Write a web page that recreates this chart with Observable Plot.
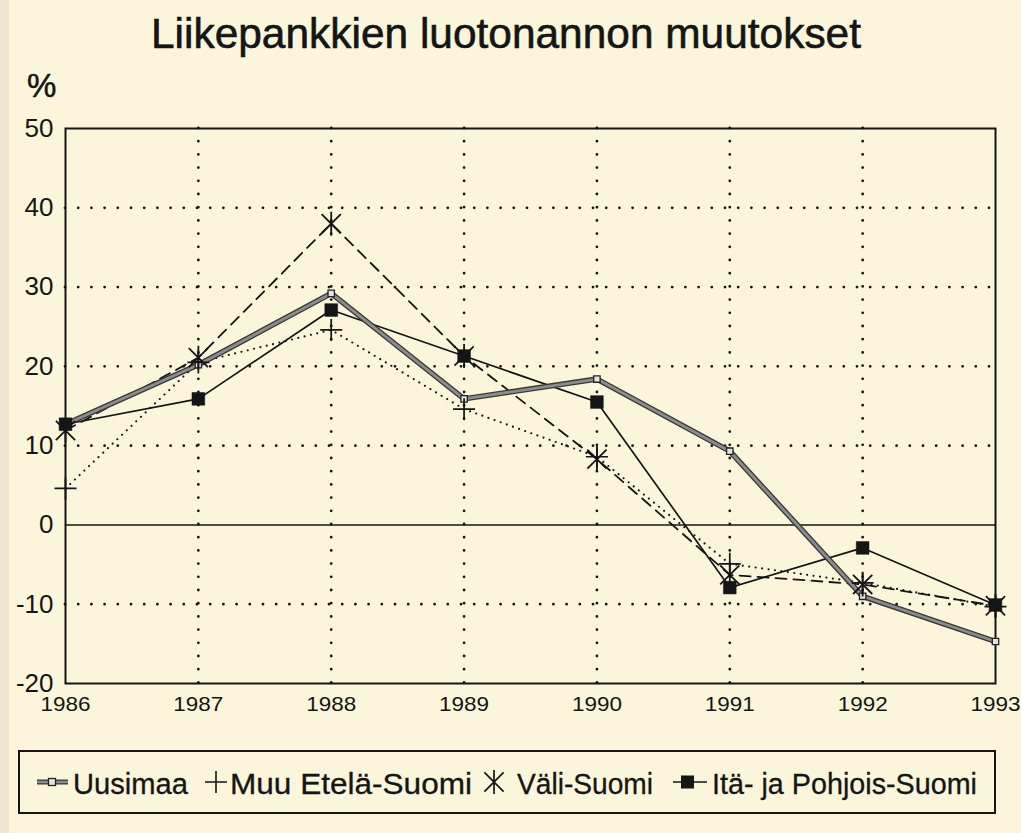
<!DOCTYPE html>
<html>
<head>
<meta charset="utf-8">
<script src="https://cdn.jsdelivr.net/npm/d3@7"></script>
<script src="https://cdn.jsdelivr.net/npm/@observablehq/plot@0.6"></script>
<style>
  html, body { margin: 0; padding: 0; background: #fbf5dc; }
  #wrap { position: relative; width: 1021px; height: 833px; overflow: hidden; background: #fbf5dc; font-family: "Liberation Sans", Arial, Helvetica, sans-serif; }
  #strip { position: absolute; left: 0; top: 0; width: 9px; height: 833px; background: #ece6d2; }
  #chart { position: absolute; left: 0; top: 0; }
  #overlay { position: absolute; left: 0; top: 0; }
</style>
</head>
<body>
<div id="wrap">
  <div id="strip"></div>
  <div id="chart"></div>
  <svg id="overlay" width="1021" height="833"></svg>
</div>
<script>
// ---- data ----
const title = "Liikepankkien luotonannon muutokset";
const unitLabel = "%";
const years = [1986, 1987, 1988, 1989, 1990, 1991, 1992, 1993];
const seriesNames = ["Uusimaa", "Muu Etelä-Suomi", "Väli-Suomi", "Itä- ja Pohjois-Suomi"];
const uusimaa = [12.7, 20.2, 29.2, 15.9, 18.4, 9.3, -9.0, -14.7];
const muuEtela = [4.6, 20.5, 24.6, 14.6, 8.6, -4.9, -7.3, -10.3];
const valiSuomi = [11.9, 21.1, 38.0, 21.3, 8.3, -6.3, -7.5, -10.2];
const itaPohjois = [12.7, 15.9, 27.1, 21.3, 15.5, -7.9, -2.9, -10.1];
const yTicks = [-20, -10, 0, 10, 20, 30, 40, 50];

const toRows = (vals) => years.map((y, i) => ({ year: y, value: vals[i] }));
const U = toRows(uusimaa), M = toRows(muuEtela), V = toRows(valiSuomi), I = toRows(itaPohjois);

// custom symbols
const plusSym = { draw(ctx, size) { const r = Math.sqrt(size / Math.PI);
  ctx.moveTo(-r, 0); ctx.lineTo(r, 0); ctx.moveTo(0, -r); ctx.lineTo(0, r); } };
const starSym = { draw(ctx, size) { const r = Math.sqrt(size / Math.PI); const d = r * 0.8;
  ctx.moveTo(0, -r); ctx.lineTo(0, r); ctx.moveTo(-d, -d); ctx.lineTo(d, d); ctx.moveTo(-d, d); ctx.lineTo(d, -d); } };

const ink = "#151515";
const chart = Plot.plot({
  width: 1021, height: 720,
  marginTop: 128, marginBottom: 37, marginLeft: 65, marginRight: 26,
  style: { background: "transparent", color: ink, fontFamily: "'Liberation Sans', Arial, Helvetica, sans-serif" },
  x: { domain: [1986, 1993] },
  y: { domain: [-20, 50] },
  marks: [
    Plot.gridY(yTicks.filter(t => t !== 0 && t !== -20 && t !== 50), { stroke: ink, strokeOpacity: 1, strokeWidth: 2.8, strokeDasharray: "0,13.2", strokeLinecap: "round" }),
    Plot.gridX(years.slice(1, -1), { stroke: ink, strokeOpacity: 1, strokeWidth: 2.8, strokeDasharray: "0,13.2", strokeLinecap: "round" }),
    Plot.ruleY([0], { stroke: ink, strokeWidth: 1.6 }),
    Plot.frame({ stroke: ink, strokeWidth: 2 }),
    // Muu Etelä-Suomi: dotted
    Plot.line(M, { x: "year", y: "value", stroke: ink, strokeWidth: 2.2, strokeDasharray: "0,6.5", strokeLinecap: "round" }),
    // Väli-Suomi: dashed
    Plot.line(V, { x: "year", y: "value", stroke: ink, strokeWidth: 1.8, strokeDasharray: "11,7" }),
    // Itä- ja Pohjois-Suomi: solid
    Plot.line(I, { x: "year", y: "value", stroke: ink, strokeWidth: 1.7 }),
    // Uusimaa: thick gray
    Plot.line(U, { x: "year", y: "value", stroke: "#3a3a3a", strokeWidth: 5.5 }),
    Plot.line(U, { x: "year", y: "value", stroke: "#8c8c8c", strokeWidth: 2.8 }),
    Plot.dot(U, { x: "year", y: "value", symbol: "square", r: 3.6, fill: "#e4e4e4", stroke: "#222", strokeWidth: 1.3 }),
    Plot.dot(M, { x: "year", y: "value", symbol: plusSym, r: 11, stroke: ink, strokeWidth: 1.7, fill: "none" }),
    Plot.dot(V, { x: "year", y: "value", symbol: starSym, r: 12, stroke: ink, strokeWidth: 1.8, fill: "none" }),
    Plot.dot(I, { x: "year", y: "value", symbol: "square", r: 7.2, fill: ink, stroke: ink, strokeWidth: 0.5 }),
    Plot.axisY(yTicks, { tickSize: 0, tickPadding: 12, fontSize: 26, label: null, tickFormat: d => String(d), stroke: ink, strokeWidth: 0.5 }),
    Plot.axisX(years, { tickSize: 0, tickPadding: 13, fontSize: 20, label: null, tickFormat: d => String(d), stroke: ink, strokeWidth: 0.5 })
  ]
});
document.getElementById("chart").appendChild(chart);
// widen x labels as in the reference
d3.select(chart).selectAll("g[aria-label='x-axis tick label'] text")
  .attr("textLength", 50).attr("lengthAdjust", "spacingAndGlyphs");

// ---- title, unit and legend ----
const svg = d3.select("#overlay");
const ff = "'Liberation Sans', Arial, Helvetica, sans-serif";
svg.append("text").attr("x", 506).attr("y", 48).attr("text-anchor", "middle")
  .attr("font-family", ff).attr("font-size", 42).attr("fill", ink).attr("stroke", ink).attr("stroke-width", 0.6)
  .attr("textLength", 710).attr("lengthAdjust", "spacingAndGlyphs").text(title);
svg.append("text").attr("x", 27).attr("y", 97)
  .attr("font-family", ff).attr("font-size", 33).attr("fill", ink).attr("stroke", ink).attr("stroke-width", 0.5).text(unitLabel);

const lg = svg.append("g");
lg.append("rect").attr("x", 19).attr("y", 751).attr("width", 976).attr("height", 62)
  .attr("fill", "none").attr("stroke", ink).attr("stroke-width", 2);
const cy = 782;
// Uusimaa glyph
lg.append("line").attr("x1", 37).attr("x2", 68).attr("y1", cy).attr("y2", cy).attr("stroke", "#3a3a3a").attr("stroke-width", 5);
lg.append("line").attr("x1", 37).attr("x2", 68).attr("y1", cy).attr("y2", cy).attr("stroke", "#8c8c8c").attr("stroke-width", 2.4);
lg.append("rect").attr("x", 48.5).attr("y", cy - 3.5).attr("width", 7).attr("height", 7).attr("fill", "#e4e4e4").attr("stroke", "#222").attr("stroke-width", 1.3);
// plus
lg.append("path").attr("d", `M205,${cy}H227M216,${cy - 11}V${cy + 11}`).attr("stroke", ink).attr("stroke-width", 1.6).attr("fill", "none");
// asterisk
{ const x = 494, r = 12, d = 9.6;
  lg.append("path").attr("d", `M${x},${cy - r}V${cy + r}M${x - d},${cy - d}L${x + d},${cy + d}M${x - d},${cy + d}L${x + d},${cy - d}`)
    .attr("stroke", ink).attr("stroke-width", 1.7).attr("fill", "none"); }
// Itä square
lg.append("line").attr("x1", 673).attr("x2", 707).attr("y1", cy).attr("y2", cy).attr("stroke", ink).attr("stroke-width", 1.7);
lg.append("rect").attr("x", 681).attr("y", cy - 6.5).attr("width", 13).attr("height", 13).attr("fill", ink);

const legendText = [
  { label: seriesNames[0], x: 73, w: 115 },
  { label: seriesNames[1], x: 230, w: 242 },
  { label: seriesNames[2], x: 517, w: 136 },
  { label: seriesNames[3], x: 712, w: 265 }
];
legendText.forEach(t => {
  lg.append("text").attr("x", t.x).attr("y", 794).attr("font-family", ff).attr("font-size", 29)
    .attr("fill", ink).attr("stroke", ink).attr("stroke-width", 0.3)
    .attr("textLength", t.w).attr("lengthAdjust", "spacingAndGlyphs").text(t.label);
});
</script>
</body>
</html>
